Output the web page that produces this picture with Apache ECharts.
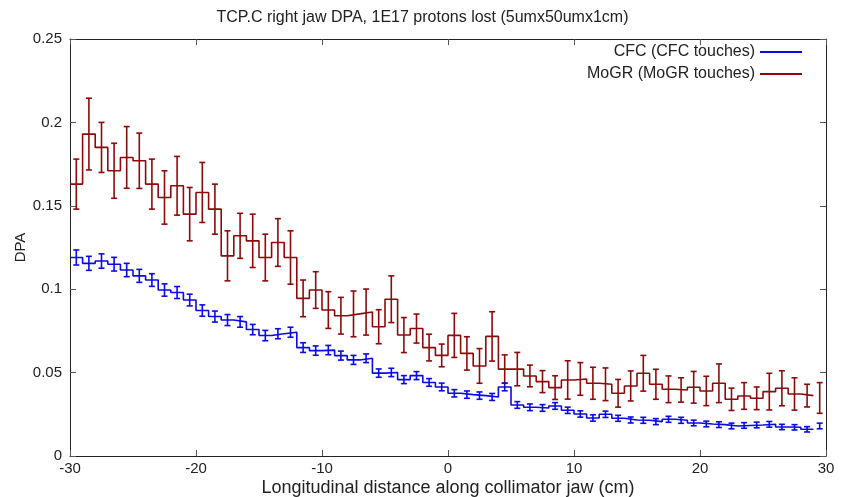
<!DOCTYPE html>
<html>
<head>
<meta charset="utf-8">
<script src="https://cdn.jsdelivr.net/npm/echarts@6/dist/echarts.min.js"></script>
<style>html,body{margin:0;padding:0;background:#fff}#c{width:845px;height:497px}</style>
</head>
<body>
<div id="c"></div>
<script>
const binCenters = [-29.5,-28.5,-27.5,-26.5,-25.5,-24.5,-23.5,-22.5,-21.5,-20.5,
  -19.5,-18.5,-17.5,-16.5,-15.5,-14.5,-13.5,-12.5,-11.5,-10.5,
  -9.5,-8.5,-7.5,-6.5,-5.5,-4.5,-3.5,-2.5,-1.5,-0.5,
  0.5,1.5,2.5,3.5,4.5,5.5,6.5,7.5,8.5,9.5,
  10.5,11.5,12.5,13.5,14.5,15.5,16.5,17.5,18.5,19.5,
  20.5,21.5,22.5,23.5,24.5,25.5,26.5,27.5,28.5,29.5];
const binWidth = 1;

const cfcDPA = [0.119,0.1155,0.1169,0.115,0.1115,0.108,0.1055,0.0995,0.098,0.0935,
  0.0872,0.0836,0.0815,0.0804,0.0758,0.0722,0.0733,0.0742,0.065,0.0632,
  0.0635,0.0602,0.0576,0.0586,0.0497,0.0501,0.0458,0.0482,0.0441,0.0414,
  0.0376,0.0368,0.0362,0.0354,0.0414,0.0306,0.0292,0.0288,0.0300,0.0274,
  0.0252,0.0228,0.0250,0.0226,0.0216,0.0214,0.0206,0.0220,0.0214,0.0198,
  0.0192,0.0188,0.0180,0.0183,0.0186,0.0190,0.0174,0.0172,0.0160,0.0180];
const cfcErr = [0.0045,0.0042,0.0043,0.0041,0.004,0.0039,0.0038,0.0037,0.0036,0.0035,
  0.0034,0.0033,0.0033,0.0032,0.0031,0.0031,0.003,0.003,0.0029,0.0028,
  0.0028,0.0027,0.0027,0.0026,0.0025,0.0025,0.0024,0.0024,0.0023,0.0023,
  0.0022,0.0022,0.0022,0.0021,0.0023,0.002,0.002,0.002,0.002,0.0019,
  0.0019,0.0019,0.0019,0.0018,0.0018,0.0018,0.0018,0.0018,0.0018,0.0017,
  0.0017,0.0017,0.0017,0.0017,0.0017,0.0017,0.0016,0.0016,0.0016,0.0017];

const mogrDPA = [0.163,0.193,0.185,0.171,0.179,0.177,0.163,0.155,0.162,0.145,
  0.158,0.148,0.120,0.132,0.129,0.119,0.128,0.119,0.0945,0.0995,
  0.0875,0.0841,0.0852,0.0863,0.0775,0.094,0.0725,0.0764,0.065,0.0603,
  0.0723,0.0615,0.054,0.0717,0.0521,0.0521,0.048,0.0446,0.041,0.0456,
  0.0462,0.0436,0.043,0.0376,0.042,0.0496,0.043,0.040,0.0396,0.0412,
  0.039,0.0436,0.034,0.036,0.0346,0.0386,0.0406,0.0372,0.0362,0.0348];
const mogrErr = [0.015,0.0215,0.015,0.0165,0.0185,0.0166,0.015,0.016,0.0176,0.016,
  0.018,0.015,0.015,0.0135,0.016,0.014,0.0143,0.016,0.011,0.011,
  0.011,0.011,0.0137,0.0138,0.0102,0.014,0.0105,0.0087,0.008,0.0068,
  0.0132,0.01,0.0104,0.0148,0.0085,0.01,0.0065,0.0066,0.0071,0.0115,
  0.0098,0.0096,0.0098,0.0083,0.009,0.0107,0.009,0.008,0.0073,0.0095,
  0.0088,0.0116,0.0067,0.008,0.0068,0.011,0.0105,0.0097,0.0068,0.0092];

const seriesNames = ['CFC (CFC touches)', 'MoGR (MoGR touches)'];
const xTicks = [-30,-20,-10,0,10,20,30];
const yTicks = [0,0.05,0.1,0.15,0.2,0.25];

const BLUE = '#0a0ae6';
const RED = '#8e0a0a';
const FONT = 'Liberation Sans, Arial, sans-serif';
const TXT = '#222';

function stepPoints(vals){
  const pts = [];
  for (let i = 0; i < vals.length - 1; i++) pts.push([binCenters[i] - binWidth/2, vals[i]]);
  const n = vals.length - 2;
  pts.push([binCenters[n] + binWidth/2, vals[n]]);
  return pts;
}
function errData(vals, errs){
  return vals.map((v,i)=>[binCenters[i], v - errs[i], v + errs[i]]);
}
function errRender(color){
  return function(params, api){
    const x = api.value(0);
    const lo = api.coord([x, api.value(1)]);
    const hi = api.coord([x, api.value(2)]);
    const cw = 3;
    const st = {stroke: color, lineWidth: 1.6};
    return {type:'group', children:[
      {type:'line', shape:{x1:lo[0],y1:lo[1],x2:hi[0],y2:hi[1]}, style:st},
      {type:'line', shape:{x1:lo[0]-cw,y1:lo[1],x2:lo[0]+cw,y2:lo[1]}, style:st},
      {type:'line', shape:{x1:hi[0]-cw,y1:hi[1],x2:hi[0]+cw,y2:hi[1]}, style:st}
    ]};
  };
}

const chart = echarts.init(document.getElementById('c'), null, {renderer:'canvas'});
const axisLine = {show:true, onZero:false, lineStyle:{color:'#222', width:1}};
const tick = {show:true, inside:true, length:6, lineStyle:{color:'#555'}};
const lbl = {color:TXT, fontSize:15, fontFamily:FONT};
chart.setOption({
  animation:false,
  title:{text:'TCP.C right jaw DPA, 1E17 protons lost (5umx50umx1cm)', left:'center', top:5,
    textStyle:{fontSize:16, fontWeight:'normal', color:TXT, fontFamily:FONT}},
  grid:{left:70, right:19, top:39, bottom:41, containLabel:false, outerBoundsMode:'none'},
  legend:{orient:'vertical', right:38, top:39, align:'right', itemWidth:42, itemHeight:2, itemGap:6,
    icon:'rect',
    textStyle:{fontSize:16, color:TXT, fontFamily:FONT, lineHeight:16, padding:[0,0,0,0]},
    data:seriesNames},
  xAxis:[
    {type:'value', min:xTicks[0], max:xTicks[xTicks.length-1], interval:10,
     name:'Longitudinal distance along collimator jaw (cm)', nameLocation:'middle', nameGap:23,
     nameMoveOverlap:false,
     nameTextStyle:{fontSize:18, color:TXT, fontFamily:FONT},
     axisLine:axisLine, axisTick:tick, splitLine:{show:false},
     axisLabel:Object.assign({margin:5}, lbl)},
    {type:'value', position:'top', min:xTicks[0], max:xTicks[xTicks.length-1], interval:10,
     axisLine:axisLine, axisTick:tick, splitLine:{show:false}, axisLabel:{show:false}}
  ],
  yAxis:[
    {type:'value', min:yTicks[0], max:yTicks[yTicks.length-1], interval:0.05,
     name:'DPA', nameLocation:'middle', nameGap:42, nameRotate:90,
     nameMoveOverlap:false,
     nameTextStyle:{fontSize:15, color:TXT, fontFamily:FONT},
     axisLine:axisLine, axisTick:tick, splitLine:{show:false},
     axisLabel:Object.assign({margin:8, formatter:v=>String(+v.toFixed(2))}, lbl)},
    {type:'value', position:'right', min:yTicks[0], max:yTicks[yTicks.length-1], interval:0.05,
     axisLine:axisLine, axisTick:tick, splitLine:{show:false}, axisLabel:{show:false}}
  ],
  series:[
    {name:seriesNames[0], type:'line', step:'end', data:stepPoints(cfcDPA), symbol:'none', showSymbol:false,
     lineStyle:{color:BLUE, width:1.6}, itemStyle:{color:BLUE}, z:3},
    {name:seriesNames[1], type:'line', step:'end', data:stepPoints(mogrDPA), symbol:'none', showSymbol:false,
     lineStyle:{color:RED, width:1.6}, itemStyle:{color:RED}, z:2},
    {type:'custom', renderItem:errRender(BLUE), data:errData(cfcDPA, cfcErr), z:3, silent:true},
    {type:'custom', renderItem:errRender(RED), data:errData(mogrDPA, mogrErr), z:2, silent:true}
  ]
});
</script>
</body>
</html>
